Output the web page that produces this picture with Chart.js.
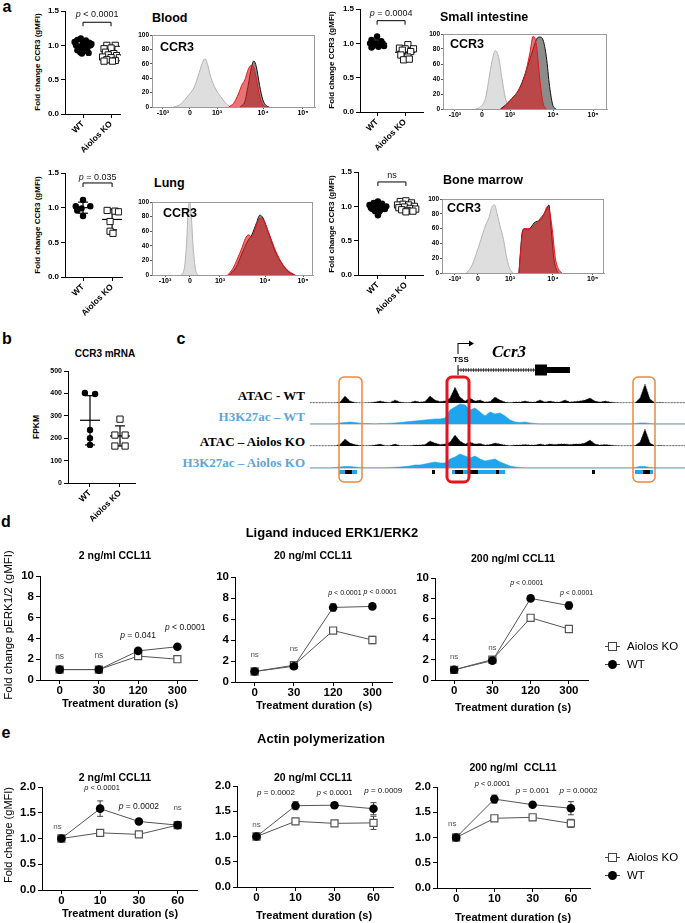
<!DOCTYPE html>
<html>
<head>
<meta charset="utf-8">
<title>Aiolos KO - CCR3</title>
<script src="https://cdn.jsdelivr.net/npm/chart.js@4.4.1/dist/chart.umd.min.js"></script>
<style>
  body { margin: 0; width: 685px; height: 923px; position: relative; overflow: hidden; background: #fff;
         font-family: "Liberation Sans", Arial, sans-serif; color: #000; }
  canvas { position: absolute; }
  .t { position: absolute; white-space: nowrap; line-height: 1; }
</style>
</head>
<body>
<script>
// ---------- data ----------
const groups = ["WT", "Aiolos KO"];
const logLabels = ["-10³", "0", "10³", "10⁴", "10⁵"];

// panel a: fold change CCR3 (gMFI) as [jittered group x, value]
const bloodWT = [[0.7,1.05],[0.8,1.08],[0.92,1.1],[1.0,1.06],[1.1,1.07],[1.22,1.04],[1.3,1.02],[0.75,1.0],[0.86,0.98],[0.97,1.0],[1.06,1.01],[1.16,0.97],[1.27,1.0],[0.8,0.93],[0.9,0.9],[1.0,0.95],[1.1,0.92],[1.2,0.89],[0.96,0.88]];
const bloodKO = [[1.85,1.0],[2.15,1.0],[1.75,0.95],[2.0,0.96],[2.25,0.94],[1.8,0.9],[2.1,0.88],[1.9,0.86],[2.2,0.85],[1.7,0.83],[2.0,0.82],[2.3,0.82],[1.85,0.79],[2.15,0.78],[1.75,0.77],[2.05,0.77]];
const siWT = [[1.0,1.1],[0.8,1.05],[1.15,1.03],[0.75,1.0],[0.95,1.0],[1.2,1.0],[0.85,0.96],[1.05,0.95],[1.25,0.96],[0.8,0.94]];
const siKO = [[2.1,0.98],[1.8,0.93],[2.0,0.92],[2.3,0.92],[1.9,0.9],[2.2,0.88],[1.85,0.83],[2.1,0.8],[1.95,0.76],[2.15,0.77]];
const lungWT = [[1.0,1.11],[0.75,1.02],[1.25,1.02],[0.95,0.99],[0.8,0.96],[1.0,0.88]];
const lungKO = [[1.83,0.96],[2.1,0.95],[2.22,0.94],[1.93,0.8],[1.93,0.66],[2.03,0.63]];
const bmWT = [[0.7,1.02],[0.85,1.05],[1.0,1.07],[1.15,1.04],[1.3,1.0],[0.75,0.98],[0.9,1.0],[1.05,1.01],[1.2,0.98],[0.8,0.96],[0.95,0.97],[1.1,0.95],[1.25,0.96],[0.9,0.93],[1.05,0.92],[1.0,0.87]];
const bmKO = [[1.8,1.07],[2.0,1.08],[2.2,1.05],[1.7,1.02],[1.9,1.03],[2.1,1.02],[2.3,1.0],[1.75,0.98],[1.95,0.99],[2.15,0.97],[2.35,0.96],[1.85,0.95],[2.05,0.94],[2.25,0.93],[2.0,0.92]];
// mean, SD per group (WT, KO)
const bloodStats = [[1.0,0.06],[0.86,0.07]];
const siStats = [[1.0,0.05],[0.87,0.08]];
const lungStats = [[1.0,0.08],[0.83,0.15]];
const bmStats = [[1.0,0.05],[1.0,0.04]];

// panel a: CCR3 histograms, [display position 0-100, % of max]
const bloodIso = [[13,0],[17,3],[20,10],[23,18],[26,28],[29,48],[31,62],[32.5,67],[34,60],[36,42],[39,25],[42,15],[45,6],[48,0]];
const bloodWTh = [[54,0],[57,8],[59,30],[61,55],[62.5,64],[64,56],[66,30],[68,10],[70,2],[72,0]];
const bloodKOh = [[47,0],[50,5],[53,18],[55,30],[57,38],[59,52],[61,58],[62,57],[64,40],[66,15],[68,3],[70,0]];
const siIso = [[20,0],[23,3],[26,15],[28,40],[30,65],[32,78],[34,68],[36,40],[38,15],[40,3],[42,0]];
const siWTh = [[35,0],[38,5],[42,14],[46,25],[49,40],[52,60],[55,80],[57,93],[59,96],[61,92],[63,70],[65,30],[67,5],[69,0]];
const siKOh = [[36,0],[39,6],[43,16],[47,28],[50,45],[53,75],[55,97],[57,85],[59,40],[61,8],[63,0]];
const lungIso = [[18,0],[20,8],[21.5,45],[22.5,90],[23.3,100],[24.3,85],[25.5,40],[27,8],[28.5,0]];
const lungWTh = [[48,0],[52,10],[56,30],[59,45],[62,55],[65,72],[67,82],[69,78],[72,60],[76,35],[80,18],[84,6],[88,0]];
const lungKOh = [[47,0],[50,8],[53,22],[56,38],[58,50],[60,55],[62,52],[64,62],[66,75],[68,78],[70,72],[73,55],[77,32],[81,15],[85,5],[89,0]];
const bmIso = [[15,0],[18,8],[21,25],[24,45],[27,65],[29,75],[31,90],[32.5,92],[34,80],[36,62],[38,45],[40,20],[42,5],[44,0]];
const bmWTh = [[47.5,0],[48.5,30],[49.5,55],[51,60],[53,58],[55,62],[57,68],[59,70],[61,72],[63,80],[65,88],[66,92],[67,70],[69,20],[71,3],[72,0]];
const bmKOh = [[47.5,0],[48.5,28],[49.5,52],[51,60],[53,60],[55,60],[57,65],[59,68],[61,75],[63,80],[65,90],[66.5,82],[68,60],[70,20],[72,5],[74,0]];
// logicle tick positions per histogram
const bloodTicks = [6.7,23.3,39.9,68.1,92.6];
const siTicks = [7.3,23.8,40.9,67.1,91.5];
const lungTicks = [8.1,23.6,42.2,70.2,93.8];
const bmTicks = [8,22.2,42,68.5,93];

// panel b: CCR3 mRNA (FPKM)
const mrnaWT = [[0.83,402],[1.17,397],[1.0,237],[1.0,200],[1.0,170]];
const mrnaKO = [[2.0,285],[1.83,214],[2.17,214],[1.83,165],[2.17,165]];
const mrnaStats = [[280,110],[210,45]];

// panel c: signal tracks, one value per genomic bin
const atacWT = [0.3,0.3,0.3,0.3,0.3,0.3,1,7,2,0.5, 0.3,0.3,0.5,1,2,1,0.5,3,1,0.5, 0.5,2,1,1.5,7,3,1.5,2,5,16, 6,2,5,2,3,1,1.5,6,3,1, 0.5,1,1,2,1,1,3,1,2,1, 1,3,1,1.5,2,3,5,2,1,2, 1,0.5,0.3,0.3,0.3,0.3,5,19,4,0.3, 0.5,0.3,0.3,0.3,0.3,0.3];
const h3WT = [0.2,0.2,0.2,0.2,0.2,0.2,1,1.5,2,1.5, 0.8,0.5,0.5,0.3,0.5,0.5,0.8,1,1.5,2, 2.5,3,3.5,4,4.5,5,5,6,14,17, 20,19,14,16,12,8,12,10,11,8, 4,2,1.5,2,1,0.5,0.2,0.2,0.2,0.2, 0.2,0.2,0.2,0.2,0.2,0.2,0.2,0.2,0.2,0.2, 0.2,0.2,0.2,0.2,0.2,0.5,1,1,0.5,0.2, 0.2,0.2,0.2,0.2,0.2,0.2];
const atacKO = [0.3,0.3,0.3,0.3,0.3,0.3,1.5,7,3,1.5, 0.5,0.3,0.5,1,2,0.5,0.5,2,0.5,0.5, 0.5,1,1,1.5,5,3,1.5,2,4,11, 5,2,4,2,2.5,1,1.5,3,2,1, 0.5,1,1,1.5,1,1,2,1,2,1.5, 2,2,1.5,2,2,3,6,2,1,1.5, 1,0.5,0.3,0.3,0.3,0.5,4,17,3,0.3, 0.5,0.3,0.3,0.3,0.3,0.3];
const h3KO = [0.2,0.2,0.2,0.2,0.2,0.5,1,1.5,1.5,1, 0.5,0.3,0.3,0.3,0.3,0.3,0.5,0.8,1,1.5, 2,3,3,4,5,6,5,5,9,11, 14,12,10,12,9,7,8,9,6,4, 2,1,0.5,0.3,0.2,0.2,0.2,0.2,0.2,0.2, 0.2,0.2,0.2,0.2,0.2,0.2,0.2,0.2,0.2,0.2, 0.2,0.2,0.2,0.2,0.2,0.5,1.5,1.5,0.5,0.2, 0.2,0.2,0.2,0.2,0.2,0.2];
const peakBlue = [[5.8,9.4],[28.4,39],[65,68.6]];
const peakBlack = [[7,8.4],[29,30.6],[31.6,33.6],[37.2,37.8],[24.4,25],[56.4,57],[66.6,68]];
const geneTSS = 29.6, geneEnd = 52;
const exons = [[45,47.4,11],[47.4,52,6]];
const regionsOrange = [[5.8,10.4],[64.6,69]];
const regionTSS = [27.4,31.8];

// panel d: pERK1/2 fold change
const erkTimes = ["0","30","120","300"];
const erk2WT = [1.0,1.0,2.8,3.2],   erk2KO = [1.0,1.0,2.3,2.0];
const erk20WT = [1.0,1.5,7.1,7.2],  erk20KO = [1.0,1.6,4.9,4.0];
const erk200WT = [1.0,1.9,8.0,7.3], erk200KO = [1.0,2.0,6.1,5.0];
const erk2WTErr = [0.1,0.1,0.15,0.1],  erk2KOErr = [0.1,0.1,0.15,0.15];
const erk20WTErr = [0.1,0.1,0.35,0.1], erk20KOErr = [0.1,0.15,0.2,0.35];
const erk200WTErr = [0.1,0.1,0.15,0.35], erk200KOErr = [0.1,0.15,0.2,0.15];

// panel e: actin polymerization fold change
const actTimes = ["0","10","30","60"];
const act2WT = [1.0,1.58,1.33,1.26],   act2KO = [1.0,1.11,1.08,1.26];
const act20WT = [1.0,1.61,1.62,1.55],  act20KO = [1.0,1.3,1.26,1.27];
const act200WT = [1.0,1.76,1.65,1.58], act200KO = [1.0,1.38,1.4,1.28];
const act2WTErr = [0,0.15,0.03,0.03],   act2KOErr = [0.02,0.03,0.03,0.03];
const act20WTErr = [0,0.08,0.05,0.12],  act20KOErr = [0.02,0.02,0.03,0.13];
const act200WTErr = [0,0.08,0.03,0.13], act200KOErr = [0.02,0.03,0.04,0.08];

// ---------- helpers ----------
const SANS = '"Liberation Sans", Arial, sans-serif';
const SERIF = '"Liberation Serif", "Times New Roman", serif';
Chart.defaults.font.family = SANS;
Chart.defaults.color = "#000";
Chart.defaults.animation = false;
Chart.defaults.responsive = false;
Chart.defaults.devicePixelRatio = 1;
Chart.defaults.plugins.legend.display = false;
Chart.defaults.plugins.tooltip.enabled = false;

// canvas so that the plot area lands on box = [left, top, right, bottom]
function mount(box, yW, xH, padT, padR) {
  const c = document.createElement("canvas");
  c.width = Math.round(box[2] - box[0] + yW + padR);
  c.height = Math.round(box[3] - box[1] + padT + xH);
  c.style.left = Math.round(box[0] - yW) + "px";
  c.style.top = Math.round(box[1] - padT) + "px";
  document.body.appendChild(c);
  return c;
}

function T(html, x, y, font, opt = {}) {
  const d = document.createElement("div");
  d.className = "t";
  d.innerHTML = html;
  d.style.font = font;
  if (opt.color) d.style.color = opt.color;
  d.style.left = x + "px";
  d.style.top = y + "px";
  const ax = opt.align === "left" ? "0" : opt.align === "right" ? "-100%" : "-50%";
  d.style.transform = `translate(${ax}, -50%)` + (opt.rot ? ` rotate(${opt.rot}deg)` : "");
  document.body.appendChild(d);
}

// "p < 0.0001" with an italic p
function drawP(ctx, s, cx, cy, size, color) {
  ctx.save();
  ctx.fillStyle = color || "#111";
  ctx.textBaseline = "middle";
  ctx.textAlign = "left";
  let head = "", rest = s;
  if (s.startsWith("p ")) { head = "p"; rest = s.slice(1); }
  ctx.font = `italic ${size}px ${SANS}`;
  const w1 = head ? ctx.measureText(head).width : 0;
  ctx.font = `${size}px ${SANS}`;
  const w2 = ctx.measureText(rest).width;
  const x0 = cx - (w1 + w2) / 2;
  if (head) { ctx.font = `italic ${size}px ${SANS}`; ctx.fillText(head, x0, cy); }
  ctx.font = `${size}px ${SANS}`;
  ctx.fillText(rest, x0 + w1, cy);
  ctx.restore();
}

function seg(ctx, x1, y1, x2, y2) {
  ctx.beginPath(); ctx.moveTo(x1, y1); ctx.lineTo(x2, y2); ctx.stroke();
}

// per-chart decorations: mean/SD, brackets, error bars, notes, frame
function extras(spec) {
  return {
    id: "extras",
    beforeDatasetsDraw(chart) {
      const { ctx, scales: { x, y } } = chart;
      ctx.save();
      ctx.strokeStyle = "#000";
      ctx.lineWidth = 1.2;
      (spec.stats || []).forEach(([m, sd], i) => {
        const px = x.getPixelForValue(i + 1);
        const pm = y.getPixelForValue(m), pt = y.getPixelForValue(m + sd), pb = y.getPixelForValue(m - sd);
        seg(ctx, px - 10, pm, px + 10, pm);
        seg(ctx, px, pt, px, pb);
        seg(ctx, px - 5, pt, px + 5, pt);
        seg(ctx, px - 5, pb, px + 5, pb);
      });
      ctx.strokeStyle = "#444";
      ctx.lineWidth = 1;
      (spec.errors || []).forEach(([vals, errs]) => {
        vals.forEach((v, i) => {
          if (!errs[i]) return;
          const px = x.getPixelForValue(i);
          const pt = y.getPixelForValue(v + errs[i]), pb = y.getPixelForValue(v - errs[i]);
          seg(ctx, px, pt, px, pb);
          seg(ctx, px - 3, pt, px + 3, pt);
          seg(ctx, px - 3, pb, px + 3, pb);
        });
      });
      ctx.restore();
    },
    afterDraw(chart) {
      const { ctx, chartArea: a, scales: { x, y } } = chart;
      ctx.save();
      if (spec.frame) {
        ctx.strokeStyle = "#9a9a9a";
        ctx.lineWidth = 1;
        ctx.strokeRect(a.left + 0.5, a.top + 0.5, a.right - a.left - 1, a.bottom - a.top);
      }
      if (spec.sig) {
        const x1 = x.getPixelForValue(1), x2 = x.getPixelForValue(2), py = y.getPixelForValue(spec.sig.y);
        ctx.strokeStyle = "#000";
        ctx.lineWidth = 1;
        ctx.beginPath();
        ctx.moveTo(x1, py + 4); ctx.lineTo(x1, py); ctx.lineTo(x2, py); ctx.lineTo(x2, py + 4);
        ctx.stroke();
        drawP(ctx, spec.sig.text, (x1 + x2) / 2, y.getPixelForValue(spec.sig.ty), 9, "#111");
      }
      (spec.notes || []).forEach(([xi, yv, text, size]) => {
        drawP(ctx, text, x.getPixelForValue(xi), y.getPixelForValue(yv), size, text === "ns" ? "#555" : "#111");
      });
      ctx.restore();
    }
  };
}

function axisStyle(color) {
  return {
    grid: { drawOnChartArea: false, tickLength: 4, color: color || "#000" },
    border: { color: color || "#000", width: 1 }
  };
}

// ---------- panel a/b dot plots ----------
function dotPlot(box, xr, yMax, yStep, yFmt, yFont, wt, ko, stats, sig) {
  const yW = 22, xH = 45, padT = 12, padR = 8;
  const cv = mount(box, yW, xH, padT, padR);
  new Chart(cv, {
    type: "scatter",
    data: {
      datasets: [
        { data: wt.map(([x, y]) => ({ x, y })), pointStyle: "circle", pointRadius: 3.2,
          backgroundColor: "#000", borderColor: "#000", borderWidth: 0 },
        { data: ko.map(([x, y]) => ({ x, y })), pointStyle: "rect", pointRadius: 4.4,
          backgroundColor: "#fff", borderColor: "#111", borderWidth: 1 }
      ]
    },
    options: {
      layout: { padding: { top: padT, right: padR, left: 0, bottom: 0 } },
      scales: {
        x: {
          type: "linear", min: xr[0], max: xr[1],
          afterBuildTicks: (s) => { s.ticks = [{ value: 1 }, { value: 2 }]; },
          afterFit: (s) => { s.height = xH; },
          ticks: { callback: (v) => groups[v - 1], minRotation: 45, maxRotation: 45, autoSkip: false,
                   padding: 1, font: { size: 8.5, weight: "bold" } },
          ...axisStyle()
        },
        y: {
          min: 0, max: yMax,
          afterFit: (s) => { s.width = yW; },
          ticks: { stepSize: yStep, callback: yFmt, padding: 2, font: { size: yFont, weight: "bold" } },
          ...axisStyle()
        }
      }
    },
    plugins: [extras({ stats, sig })]
  });
}

// ---------- panel a histograms ----------
function histPlot(box, ticks, iso, wt, ko) {
  const yW = 18, xH = 16, padT = 6, padR = 6;
  const cv = mount(box, yW, xH, padT, padR);
  const curve = (pts, fill, line) => ({
    data: pts.map(([x, y]) => ({ x, y })), fill: "origin", backgroundColor: fill, borderColor: line,
    borderWidth: 1, pointRadius: 0, cubicInterpolationMode: "monotone"
  });
  new Chart(cv, {
    type: "line",
    data: {
      datasets: [
        curve(ko, "rgba(214,30,30,0.62)", "#e5161b"),
        curve(wt, "#8c8c8c", "#111"),
        curve(iso, "#dedede", "#b4b4b4")
      ]
    },
    options: {
      layout: { padding: { top: padT, right: padR, left: 0, bottom: 0 } },
      scales: {
        x: {
          type: "linear", min: 0, max: 100,
          afterBuildTicks: (s) => { s.ticks = ticks.map((v) => ({ value: v })); },
          afterFit: (s) => { s.height = xH; },
          ticks: { callback: (v, i) => logLabels[i], maxRotation: 0, autoSkip: false, padding: 0,
                   font: { size: 7, weight: "bold" } },
          grid: { drawOnChartArea: false, tickLength: 2, color: "#555" },
          border: { color: "#9a9a9a" }
        },
        y: {
          min: 0, max: 100,
          afterFit: (s) => { s.width = yW; },
          ticks: { stepSize: 20, padding: 1, font: { size: 6.5, weight: "bold" } },
          grid: { drawOnChartArea: false, tickLength: 2, color: "#555" },
          border: { color: "#9a9a9a" }
        }
      }
    },
    plugins: [extras({ frame: true })]
  });
}

// ---------- panel d/e time courses ----------
function linePlot(box, cats, yMax, yStep, yFmt, wt, ko, wtErr, koErr, notes) {
  const yW = 30, xH = 22, padT = 16, padR = 24;
  const cv = mount(box, yW, xH, padT, padR);
  new Chart(cv, {
    type: "line",
    data: {
      labels: cats,
      datasets: [
        { data: wt, borderColor: "#555", borderWidth: 1, pointStyle: "circle", pointRadius: 4.3,
          pointBackgroundColor: "#000", pointBorderColor: "#000", pointBorderWidth: 0 },
        { data: ko, borderColor: "#555", borderWidth: 1, pointStyle: "rect", pointRadius: 5,
          pointBackgroundColor: "#fff", pointBorderColor: "#555", pointBorderWidth: 1.2 }
      ]
    },
    options: {
      layout: { padding: { top: padT, right: padR, left: 0, bottom: 0 } },
      scales: {
        x: {
          type: "category", offset: true,
          afterFit: (s) => { s.height = xH; },
          ticks: { padding: 0, font: { size: 11.5, weight: "bold" } },
          ...axisStyle()
        },
        y: {
          min: 0, max: yMax,
          afterFit: (s) => { s.width = yW; },
          ticks: { stepSize: yStep, callback: yFmt, padding: 2, font: { size: 11.5, weight: "bold" } },
          ...axisStyle()
        }
      }
    },
    plugins: [extras({ errors: [[wt, wtErr], [ko, koErr]], notes })]
  });
}

// ---------- panel c genome tracks ----------
function trackPlot() {
  const cv = document.createElement("canvas");
  cv.width = 375; cv.height = 150;
  cv.style.left = "310px"; cv.style.top = "335px";
  document.body.appendChild(cv);
  const bases = [82, 61, 39, 17];
  const track = (vals, base, color, line, dash) => ({
    data: vals.map((v, i) => ({ x: i, y: base + v })), borderColor: line, borderWidth: 0.6,
    borderDash: dash, backgroundColor: color, fill: { value: base }, pointRadius: 0, tension: 0
  });
  const gene = {
    id: "gene",
    beforeDatasetsDraw(chart) {
      const { ctx, scales: { y } } = chart;
      ctx.save();
      ctx.strokeStyle = "#d4d4d4";
      ctx.lineWidth = 1.2;
      [bases[1], bases[3]].forEach((b) => seg(ctx, 0, y.getPixelForValue(b) + 0.5, 375, y.getPixelForValue(b) + 0.5));
      ctx.restore();
    },
    afterDraw(chart) {
      const { ctx, scales: { x } } = chart;
      ctx.save();
      const tss = x.getPixelForValue(geneTSS), end = x.getPixelForValue(geneEnd);
      ctx.strokeStyle = "#000";
      ctx.fillStyle = "#000";
      ctx.lineWidth = 1;
      // TSS arrow
      seg(ctx, tss, 19, tss, 8);
      seg(ctx, tss, 8.5, tss + 12, 8.5);
      ctx.beginPath(); ctx.moveTo(tss + 16, 8.5); ctx.lineTo(tss + 11, 5.5); ctx.lineTo(tss + 11, 11.5); ctx.fill();
      // gene body
      seg(ctx, tss, 35, end, 35);
      seg(ctx, tss, 30, tss, 40);
      ctx.lineWidth = 0.6;
      const ex0 = x.getPixelForValue(exons[0][0]);
      for (let px = tss + 3; px < ex0; px += 2.5) seg(ctx, px, 33, px, 37);
      exons.forEach(([a, b, h]) => {
        const xa = x.getPixelForValue(a), xb = x.getPixelForValue(b);
        ctx.fillRect(xa, 35 - h / 2, xb - xa, h);
      });
      // called peaks
      ctx.fillStyle = "#1fa5ee";
      peakBlue.forEach(([a, b]) => ctx.fillRect(x.getPixelForValue(a), 135, x.getPixelForValue(b) - x.getPixelForValue(a), 4));
      ctx.fillStyle = "#000";
      peakBlack.forEach(([a, b]) => ctx.fillRect(x.getPixelForValue(a), 135, x.getPixelForValue(b) - x.getPixelForValue(a), 4));
      // highlighted regions
      ctx.strokeStyle = "#f0873a";
      ctx.lineWidth = 1.5;
      regionsOrange.forEach(([a, b]) => {
        const xa = x.getPixelForValue(a), xb = x.getPixelForValue(b);
        ctx.beginPath(); ctx.roundRect(xa, 42, xb - xa, 105, 5); ctx.stroke();
      });
      ctx.strokeStyle = "#e8141c";
      ctx.lineWidth = 3;
      const ra = x.getPixelForValue(regionTSS[0]), rb = x.getPixelForValue(regionTSS[1]);
      ctx.beginPath(); ctx.roundRect(ra, 42, rb - ra, 105, 5); ctx.stroke();
      ctx.restore();
    }
  };
  new Chart(cv, {
    type: "line",
    data: {
      datasets: [
        track(atacWT, bases[0], "#000", "#333", [1.5, 1.5]),
        track(h3WT, bases[1], "#1fa5ee", "#1fa5ee", []),
        track(atacKO, bases[2], "#000", "#333", [1.5, 1.5]),
        track(h3KO, bases[3], "#1fa5ee", "#1fa5ee", [])
      ]
    },
    options: {
      layout: { padding: 0 },
      scales: {
        x: { type: "linear", min: 0, max: 75, display: false },
        y: { min: 0, max: 150, display: false }
      }
    },
    plugins: [gene]
  });
}

// ---------- build ----------
const f1 = (v) => v.toFixed(1);
const f0 = (v) => String(v);

dotPlot([65, 11, 120, 114], [0.357, 2.32], 1.5, 0.5, f1, 8, bloodWT, bloodKO, bloodStats, { y: 1.336, ty: 1.45, text: "p < 0.0001" });
dotPlot([360, 9, 423, 112], [0.39, 2.64], 1.5, 0.5, f1, 8, siWT, siKO, siStats, { y: 1.33, ty: 1.43, text: "p = 0.0004" });
dotPlot([65, 173, 122, 277], [0.38, 2.34], 1.5, 0.5, f1, 8, lungWT, lungKO, lungStats, { y: 1.356, ty: 1.44, text: "p = 0.035" });
dotPlot([358, 172, 423, 275], [0.29, 2.61], 1.5, 0.5, f1, 8, bmWT, bmKO, bmStats, { y: 1.355, ty: 1.456, text: "ns" });

histPlot([152, 35, 315, 107], bloodTicks, bloodIso, bloodWTh, bloodKOh);
histPlot([443, 34, 607, 109], siTicks, siIso, siWTh, siKOh);
histPlot([152, 202, 313, 275], lungTicks, lungIso, lungWTh, lungKOh);
histPlot([442, 199, 604, 273], bmTicks, bmIso, bmWTh, bmKOh);

dotPlot([68, 371, 135, 483], [0.267, 2.5], 500, 100, f0, 7, mrnaWT, mrnaKO, mrnaStats, null);

trackPlot();

linePlot([40, 576, 197, 680], erkTimes, 10, 2, f0, erk2WT, erk2KO, erk2WTErr, erk2KOErr,
  [[0, 2.2, "ns", 8.5], [1, 2.3, "ns", 8.5], [2, 4.3, "p = 0.041", 8.5], [3.2, 5.0, "p < 0.0001", 8.5]]);
linePlot([235, 577, 392, 682], erkTimes, 10, 2, f0, erk20WT, erk20KO, erk20WTErr, erk20KOErr,
  [[0, 2.6, "ns", 8], [1, 3.2, "ns", 8], [2.3, 8.5, "p < 0.0001", 7], [3.2, 8.6, "p < 0.0001", 7]]);
linePlot([435, 578, 588, 680], erkTimes, 10, 2, f0, erk200WT, erk200KO, erk200WTErr, erk200KOErr,
  [[0, 2.25, "ns", 8], [1, 3.2, "ns", 8], [1.9, 9.5, "p < 0.0001", 7], [3.2, 8.5, "p < 0.0001", 7]]);

linePlot([42, 787, 197, 890], actTimes, 2, 0.5, f1, act2WT, act2KO, act2WTErr, act2KOErr,
  [[-0.1, 1.22, "ns", 8], [1.05, 1.98, "p < 0.0001", 7.5], [2, 1.61, "p = 0.0002", 8.5], [3, 1.59, "ns", 8]]);
linePlot([237, 786, 393, 887], actTimes, 2, 0.5, f1, act20WT, act20KO, act20WTErr, act20KOErr,
  [[0, 1.23, "ns", 8], [0.5, 1.86, "p = 0.0002", 8], [2, 1.86, "p < 0.0001", 7.5], [3.25, 1.9, "p = 0.0009", 8]]);
linePlot([437, 787, 590, 888], actTimes, 2, 0.5, f1, act200WT, act200KO, act200WTErr, act200KOErr,
  [[-0.1, 1.27, "ns", 8], [0.95, 2.06, "p < 0.0001", 7.5], [2, 1.92, "p = 0.001", 8], [3.2, 1.92, "p = 0.0002", 8]]);

// ---------- text ----------
const B = (s) => `bold ${s}px ${SANS}`;
const R = (s) => `${s}px ${SANS}`;
["a", "b", "c", "d", "e"].forEach((l, i) => {
  const pos = [[7, 7], [7, 339], [181, 339], [6, 522], [6, 733]][i];
  T(l, pos[0], pos[1], B(16));
});
T("Blood", 152, 18, B(12.5), { align: "left" });
T("Small intestine", 440, 17, B(12.5), { align: "left" });
T("Lung", 154, 183, B(12.5), { align: "left" });
T("Bone marrow", 443, 180, B(12.5), { align: "left" });
T("CCR3", 160, 47, B(12.5), { align: "left" });
T("CCR3", 450, 44, B(12.5), { align: "left" });
T("CCR3", 163, 213, B(12.5), { align: "left" });
T("CCR3", 447, 208, B(12.5), { align: "left" });
T("Fold change CCR3 (gMFI)", 37, 62, B(8), { rot: -90 });
T("Fold change CCR3 (gMFI)", 331, 60, B(8), { rot: -90 });
T("Fold change CCR3 (gMFI)", 37, 225, B(8), { rot: -90 });
T("Fold change CCR3 (gMFI)", 331, 224, B(8), { rot: -90 });

T("CCR3 mRNA", 105, 353, B(10));
T("FPKM", 36, 427, B(8.5), { rot: -90 });

const blue = "#5ea5dc";
T("ATAC - WT", 305, 396, `bold 13px ${SERIF}`, { align: "right" });
T("H3K27ac – WT", 305, 417, `bold 13px ${SERIF}`, { align: "right", color: blue });
T("ATAC – Aiolos KO", 305, 442, `bold 13px ${SERIF}`, { align: "right" });
T("H3K27ac – Aiolos KO", 305, 463, `bold 13px ${SERIF}`, { align: "right", color: blue });
T("TSS", 461, 359, B(8));
T("Ccr3", 492, 352, `italic bold 17px ${SERIF}`, { align: "left" });

T("Ligand induced ERK1/ERK2", 332, 532, B(13));
T("2 ng/ml CCL11", 115, 555, B(10.5));
T("20 ng/ml CCL11", 313, 555, B(10.5));
T("200 ng/ml CCL11", 513, 558, B(10.5));
T("Fold change pERK1/2 (gMFI)", 8, 625, R(11.5), { rot: -90 });
T("Treatment duration (s)", 120, 703, B(11));
T("Treatment duration (s)", 314, 705, B(11));
T("Treatment duration (s)", 513, 707, B(11));

T("Actin polymerization", 321, 738, B(13));
T("2 ng/ml CCL11", 115, 777, B(10.5));
T("20 ng/ml CCL11", 313, 777, B(10.5));
T("200 ng/ml&nbsp; CCL11", 513, 767, B(10.5));
T("Fold change (gMFI)", 8, 835, R(11), { rot: -90 });
T("Treatment duration (s)", 120, 913, B(11));
T("Treatment duration (s)", 314, 915, B(11));
T("Treatment duration (s)", 513, 917, B(11));

// legends
function legendRow(y, kind, label) {
  const line = document.createElement("div");
  line.style.cssText = `position:absolute;left:605px;top:${y - 0.5}px;width:15px;height:1px;background:#444`;
  document.body.appendChild(line);
  const m = document.createElement("div");
  m.style.cssText = kind === "sq"
    ? `position:absolute;left:608px;top:${y - 4}px;width:7px;height:7px;background:#fff;border:1.2px solid #444`
    : `position:absolute;left:608px;top:${y - 4.5}px;width:9px;height:9px;background:#000;border-radius:50%`;
  document.body.appendChild(m);
  T(label, 627, y, R(11.5), { align: "left" });
}
legendRow(646, "sq", "Aiolos KO");
legendRow(664, "ci", "WT");
legendRow(857, "sq", "Aiolos KO");
legendRow(875, "ci", "WT");
</script>
</body>
</html>
